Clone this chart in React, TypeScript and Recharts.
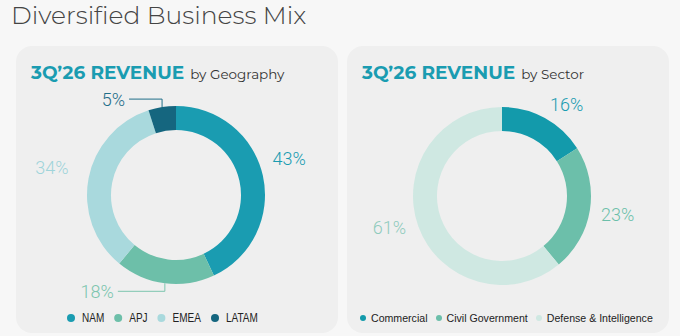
import { PieChart, Pie, Cell, Legend } from 'recharts'

const geoNames = ['NAM', 'APJ', 'EMEA', 'LATAM']
const geoValues = [43, 18, 34, 5]
const geoColors = ['#1a9cb1', '#6dbfa9', '#a9d9dd', '#15667f']
const geoLabelColors = ['#1a9cb1', '#7cc5ae', '#9fd4da', '#1f6e89']

const sectorNames = ['Commercial', 'Civil Government', 'Defense & Intelligence']
const sectorValues = [16, 23, 61]
const sectorColors = ['#139aab', '#6cbfaa', '#cfe8e2']
const sectorLabelColors = ['#1a9cb1', '#6cbfaa', '#8fcbbd']

const RAD = Math.PI / 180

const makeData = (names: string[], values: number[]) =>
  names.map((name, i) => ({ name, value: values[i] }))

const geoData = makeData(geoNames, geoValues)
const sectorData = makeData(sectorNames, sectorValues)

// label tweaks: angle nudge (deg) and extra radius per slice, leader line length for small slices
function makeLabel(labelColors: string[], nudge: number[][], leader: Record<number, number>) {
  return (props: any) => {
    const { cx, cy, midAngle, outerRadius, index, value } = props
    const color = labelColors[index]
    const style = { fontFamily: 'Roboto', fontWeight: 300, fontSize: 18 }
    if (leader[index] != null) {
      const sx = cx + outerRadius * Math.cos(-midAngle * RAD)
      const sy = cy + outerRadius * Math.sin(-midAngle * RAD)
      const dir = sy < cy ? -1 : 1
      const ey = sy + dir * 8
      const ex = sx - leader[index]
      return (
        <g>
          <polyline points={`${sx},${sy} ${sx},${ey} ${ex},${ey}`} fill="none" stroke={color} strokeWidth={1} />
          <text x={ex - 4} y={ey} fill={color} textAnchor="end" dominantBaseline="central" style={style}>
            {value}%
          </text>
        </g>
      )
    }
    const [da, dr] = nudge[index] || [0, 0]
    const a = midAngle + da
    const r = outerRadius + 28 + dr
    const x = cx + r * Math.cos(-a * RAD)
    const y = cy + r * Math.sin(-a * RAD)
    return (
      <text x={x} y={y} fill={color} textAnchor="middle" dominantBaseline="central" style={style}>
        {value}%
      </text>
    )
  }
}

// sx < 1 squeezes the row horizontally (the geography legend uses a narrow face)
function LegendRow({ names, colors, lg }: any) {
  const sx = lg.sx || 1
  return (
    <div style={{ paddingLeft: lg.pad }}>
      <div
        style={{
          display: 'flex',
          gap: lg.gap / sx,
          fontFamily: '"Liberation Sans", Arial, sans-serif',
          fontSize: lg.size,
          color: '#222',
          lineHeight: '14px',
          transform: `scaleX(${sx})`,
          transformOrigin: 'left center',
          whiteSpace: 'nowrap',
        }}
      >
        {names.map((n: string, i: number) => (
          <div key={n} style={{ display: 'flex', alignItems: 'center' }}>
            <span style={{ width: lg.dot / sx, height: lg.dot, borderRadius: '50%', background: colors[i], display: 'inline-block', marginRight: lg.dotGap / sx }} />
            {n}
          </div>
        ))}
      </div>
    </div>
  )
}

function Panel({ left, width, sub, names, data, colors, labelColors, nudge, leader, cx, cy, lg }: any) {
  return (
    <div style={{ position: 'absolute', left, top: 46, width, height: 287, background: '#efefef', borderRadius: 16 }}>
      <div style={{ position: 'absolute', left: 15, top: 15, whiteSpace: 'nowrap', fontFamily: 'Montserrat, "Open Sans", sans-serif' }}>
        <span style={{ color: '#1a9cb1', fontWeight: 700, fontSize: 18.5 }}>3Q’26 REVENUE</span>
        <span style={{ color: '#333', fontSize: 13.5, marginLeft: 6 }}>{sub}</span>
      </div>
      <PieChart width={width} height={287} margin={{ top: 0, right: 0, bottom: 0, left: 0 }} style={{ position: 'absolute', left: 0, top: 0 }}>
        <Pie
          data={data}
          dataKey="value"
          nameKey="name"
          cx={cx}
          cy={cy}
          innerRadius={65}
          outerRadius={89}
          startAngle={90}
          endAngle={-270}
          stroke="none"
          label={makeLabel(labelColors, nudge, leader)}
          labelLine={false}
          isAnimationActive={false}
        >
          {data.map((d: any, i: number) => (
            <Cell key={d.name} fill={colors[i]} />
          ))}
        </Pie>
        <Legend
          content={() => <LegendRow names={names} colors={colors} lg={lg} />}
          wrapperStyle={{ left: 0, bottom: 8, width }}
        />
      </PieChart>
    </div>
  )
}

export default function App() {
  return (
    <div style={{ position: 'absolute', left: 0, top: 0, width: 680, height: 336, background: '#f7f7f7', overflow: 'hidden' }}>
      <div style={{ position: 'absolute', left: 11, top: 0, fontFamily: 'Montserrat, "Open Sans", sans-serif', fontWeight: 300, fontSize: 25, color: '#444', whiteSpace: 'nowrap' }}>
        Diversified Business Mix
      </div>
      <Panel
        left={16}
        width={322}
        sub="by Geography"
        names={geoNames}
        data={geoData}
        colors={geoColors}
        labelColors={geoLabelColors}
        nudge={[[5.5, 2], [0, 0], [-1.5, 10]]}
        leader={{ 1: 47, 3: 33 }}
        cx={160}
        cy={149}
        lg={{ pad: 51, gap: 10, size: 12.5, dot: 8, dotGap: 7, sx: 0.8 }}
      />
      <Panel
        left={347}
        width={322}
        sub="by Sector"
        names={sectorNames}
        data={sectorData}
        colors={sectorColors}
        labelColors={sectorLabelColors}
        nudge={[[-6.5, -5], [0, 0], [-4, 0]]}
        leader={{}}
        cx={155}
        cy={150}
        lg={{ pad: 13, gap: 8, size: 10.6, dot: 6, dotGap: 5 }}
      />
    </div>
  )
}
